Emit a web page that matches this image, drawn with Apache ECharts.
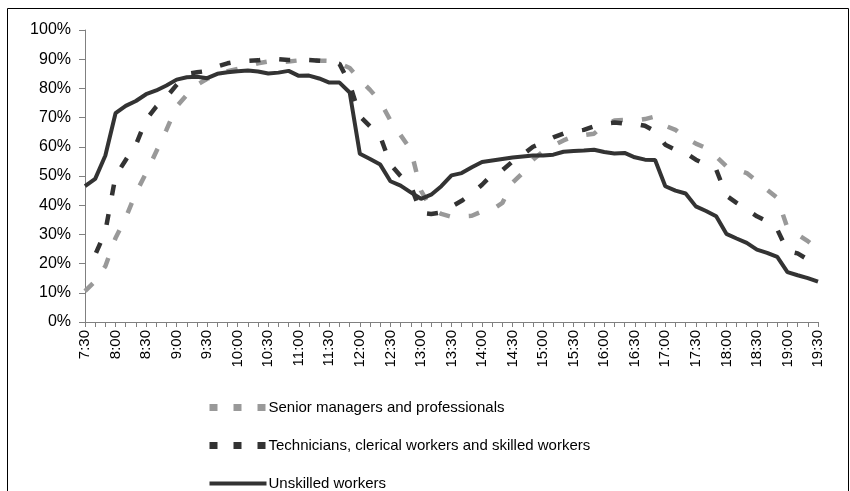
<!DOCTYPE html>
<html>
<head>
<meta charset="utf-8">
<script src="https://cdn.jsdelivr.net/npm/echarts@6/dist/echarts.min.js"></script>
<style>
  html, body { margin: 0; padding: 0; background: #fff; }
  #main { width: 850px; height: 491px; }
</style>
</head>
<body>
<div id="main"></div>
<script>
// time of day, every 10 minutes
var times = [
  '7:30','7:40','7:50','8:00','8:10','8:20','8:30','8:40','8:50',
  '9:00','9:10','9:20','9:30','9:40','9:50','10:00','10:10','10:20',
  '10:30','10:40','10:50','11:00','11:10','11:20','11:30','11:40','11:50',
  '12:00','12:10','12:20','12:30','12:40','12:50','13:00','13:10','13:20',
  '13:30','13:40','13:50','14:00','14:10','14:20','14:30','14:40','14:50',
  '15:00','15:10','15:20','15:30','15:40','15:50','16:00','16:10','16:20',
  '16:30','16:40','16:50','17:00','17:10','17:20','17:30','17:40','17:50',
  '18:00','18:10','18:20','18:30','18:40','18:50','19:00','19:10','19:20',
  '19:30'
];

var seriesNames = [
  'Senior managers and professionals',
  'Technicians, clerical workers and skilled workers',
  'Unskilled workers'
];

var senior = [
  10.6, 14, 19.1, 28.8, 35.7, 44.2, 51, 58.4, 65.8,
  73.8, 77.8, 81.2, 83.3, 84.6, 85.9, 86.7, 87.7, 88.6,
  89.2, 88.9, 89.2, 89.6, 89.7, 89.5, 89.4, 88.6, 87,
  83, 79.5, 75.5, 69, 64, 59, 45, 39, 37,
  36, 36.2, 36.4, 37.9, 38.5, 40.8, 47.7, 51.1, 55.6,
  58.4, 60.4, 62.2, 63.6, 64, 64.5, 67.5, 69, 69.2,
  69, 69.5, 70.4, 67.2, 65.8, 63, 61.1, 59.6, 56.7,
  53.3, 52.2, 51, 48.2, 45.3, 42.5, 32.2, 30, 27.7,
  24.8
];

var technicians = [
  20.3, 23, 31, 50, 55.5, 60.7, 69.3, 73.8, 77,
  81.2, 85, 85.5, 86, 87.5, 88.6, 89.3, 89.4, 89.6,
  90.2, 90, 89.7, 89.7, 89.7, 89.5, 89.2, 88.4, 81.5,
  70.5, 67, 63.6, 54, 50, 46.7, 37.4, 37, 37.5,
  39.5, 41.5, 44, 47, 50.5, 52, 55, 57.3, 60,
  61.5, 63.2, 64.5, 65.3, 65.8, 67, 67.9, 68.3, 68,
  67.9, 67.2, 65.3, 60.7, 59, 57.9, 55.6, 53.9, 52.2,
  43.3, 40.8, 38.5, 36.2, 34.5, 31.7, 24.3, 23.5, 21.4,
  19.7
];

var unskilled = [
  46.5, 49, 57, 71.5, 74, 75.7, 78, 79.3, 81,
  83, 83.8, 84, 83.5, 85, 85.5, 85.9, 86.1, 85.8,
  85.1, 85.4, 86, 84.3, 84.4, 83.4, 82, 82, 78.6,
  57.6, 55.8, 53.9, 48.2, 46.7, 44.4, 42.2, 43.6, 46.5,
  50.2, 51, 53, 54.8, 55.3, 55.8, 56.3, 56.7, 57,
  57, 57.3, 58.3, 58.6, 58.7, 59, 58.2, 57.7, 57.9,
  56.4, 55.6, 55.5, 46.5, 45, 44, 39.6, 38, 36.2,
  30.2, 28.6, 27.1, 24.8, 23.7, 22.3, 17.1, 16, 15,
  13.8
];

var myChart = echarts.init(document.getElementById('main'));

var font = 'Arial, "Liberation Sans", sans-serif';

var option = {
  animation: false,
  backgroundColor: '#fff',
  textStyle: { fontFamily: font, color: '#000' },
  graphic: [{
    type: 'rect',
    shape: { x: 7.5, y: 8.5, width: 841, height: 495 },
    style: { fill: 'none', stroke: '#000', lineWidth: 1 },
    silent: true
  }],
  grid: {
    left: 85,
    right: 32,
    top: 30,
    bottom: 169,
    outerBoundsMode: 'none'
  },
  legend: {
    orient: 'vertical',
    left: 206,
    top: 400,
    height: 120,
    padding: 0,
    itemWidth: 57,
    itemHeight: 14,
    itemGap: 23,
    textStyle: { fontSize: 15, lineHeight: 14, fontFamily: font, color: '#000', padding: [0, 0, 0, -3] },
    data: [
      { name: seriesNames[0], itemStyle: { opacity: 0 }, lineStyle: { type: [8, 16], dashOffset: 0, width: 7, color: '#999999' } },
      { name: seriesNames[1], itemStyle: { opacity: 0 }, lineStyle: { type: [8, 16], dashOffset: 0, width: 7, color: '#333333' } },
      { name: seriesNames[2], itemStyle: { opacity: 0 }, lineStyle: { type: 'solid', width: 4, color: '#333333' } }
    ]
  },
  xAxis: {
    type: 'category',
    data: times,
    boundaryGap: false,
    axisLine: { lineStyle: { color: '#808080', width: 1 } },
    axisTick: { show: true, interval: 0, length: 5, lineStyle: { color: '#808080' } },
    axisLabel: {
      interval: 2,
      rotate: 90,
      margin: 8,
      fontSize: 15,
      color: '#000',
      fontFamily: font
    },
    splitLine: { show: false }
  },
  yAxis: {
    type: 'value',
    min: 0,
    max: 100,
    interval: 10,
    axisLine: { show: true, lineStyle: { color: '#808080', width: 1 } },
    axisTick: { show: true, length: 6, lineStyle: { color: '#808080' } },
    axisLabel: {
      formatter: '{value}%',
      margin: 14,
      fontSize: 16,
      color: '#000',
      fontFamily: font
    },
    splitLine: { show: false }
  },
  series: [
    {
      name: seriesNames[0],
      type: 'line',
      data: senior,
      symbol: 'none',
      lineStyle: { color: '#999999', width: 4.5, type: [11, 19], cap: 'butt' },
      itemStyle: { color: '#999999' },
      z: 2
    },
    {
      name: seriesNames[1],
      type: 'line',
      data: technicians,
      symbol: 'none',
      lineStyle: { color: '#333333', width: 4.5, type: [11, 19], dashOffset: 15, cap: 'butt' },
      itemStyle: { color: '#333333' },
      z: 3
    },
    {
      name: seriesNames[2],
      type: 'line',
      data: unskilled,
      symbol: 'none',
      lineStyle: { color: '#333333', width: 4 },
      itemStyle: { color: '#333333' },
      z: 4
    }
  ]
};

myChart.setOption(option);
</script>
</body>
</html>
